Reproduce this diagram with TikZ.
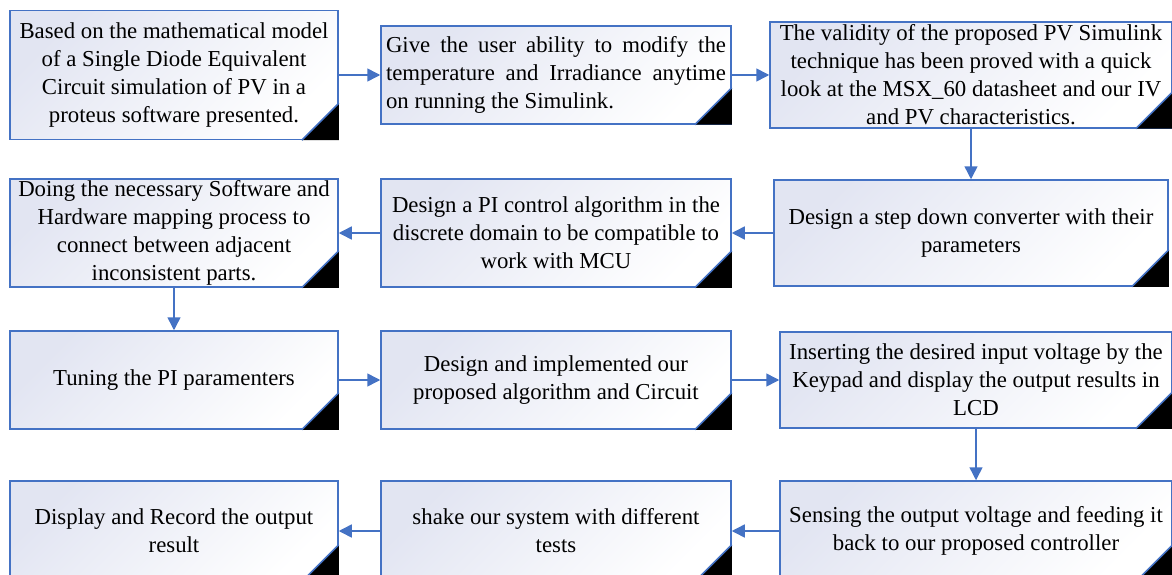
\documentclass[tikz,border=0pt]{standalone}
\usepackage{fontspec}
\setmainfont{Liberation Serif}
\usetikzlibrary{arrows.meta}
\definecolor{boxblue}{RGB}{68,114,196}
\definecolor{boxtop}{RGB}{226,229,242}
\tikzset{
  flowbox/.style={draw=boxblue, line width=1.5pt, top color=boxtop, bottom color=white,
    shading angle=45, inner sep=0pt, align=center, font=\fontsize{22.8}{28}\selectfont},
  arrowline/.style={draw=boxblue, line width=1.5pt, -{Triangle[length=13pt,width=13pt]}},
}
\begin{document}
\begin{tikzpicture}[x=1pt,y=-1pt]
  \useasboundingbox (0,0) rectangle (1172,575);

  % Drawing boxes of row 1
  \node[flowbox, minimum width=328pt, minimum height=129pt] (based) at (174,75)
    {Based on the mathematical model\\of a Single Diode Equivalent\\Circuit simulation of PV in a\\proteus software presented.};
  \node[flowbox, minimum width=350pt, minimum height=98pt, text width=340pt, align=justify] (giveuser) at (556,75)
    {Give the user ability to modify the\linebreak temperature and Irradiance anytime\linebreak on running the Simulink.};
  \node[flowbox, minimum width=402pt, minimum height=106pt] (validity) at (971,75)
    {The validity of the proposed PV Simulink\\technique has been proved with a quick\\look at the MSX\_60 datasheet and our IV\\and PV characteristics.};

  % Drawing boxes of row 2
  \node[flowbox, minimum width=394pt, minimum height=106pt] (stepdown) at (971,233)
    {Design a step down converter with their\\parameters};
  \node[flowbox, minimum width=350pt, minimum height=108pt] (picontrol) at (556,233)
    {Design a PI control algorithm in the\\discrete domain to be compatible to\\work with MCU};
  \node[flowbox, minimum width=328pt, minimum height=108pt] (mapping) at (174,233)
    {Doing the necessary Software and\\Hardware mapping process to\\connect between adjacent\\inconsistent parts.};

  % Drawing boxes of row 3
  \node[flowbox, minimum width=328pt, minimum height=98pt] (tuning) at (174,380)
    {Tuning the PI paramenters};
  \node[flowbox, minimum width=350pt, minimum height=98pt] (implement) at (556,380)
    {Design and implemented our\\proposed algorithm and Circuit};
  \node[flowbox, minimum width=392pt, minimum height=96pt] (keypad) at (976,380)
    {Inserting the desired input voltage by the\\Keypad and display the output results in\\LCD};

  % Drawing boxes of row 4
  \node[flowbox, minimum width=392pt, minimum height=100pt] (sensing) at (976,531)
    {Sensing the output voltage and feeding it\\back to our proposed controller};
  \node[flowbox, minimum width=350pt, minimum height=100pt] (shake) at (556,531)
    {shake our system with different\\tests};
  \node[flowbox, minimum width=328pt, minimum height=100pt] (display) at (174,531)
    {Display and Record the output\\result};

  % Marking the folded corners
  \foreach \n in {based,giveuser,validity,stepdown,picontrol,mapping,tuning,implement,keypad,sensing,shake,display} {
    \fill[black] (\n.south east) -- ++(-37,0) -- ++(37,-37) -- cycle;
    \draw[boxblue, line width=1.5pt] ([xshift=-37pt]\n.south east) -- ([yshift=37pt]\n.south east);
  }

  % Drawing arrows
  \draw[arrowline] (based) -- (giveuser);
  \draw[arrowline] (giveuser) -- (validity);
  \draw[arrowline] (validity) -- (stepdown);
  \draw[arrowline] (stepdown) -- (picontrol);
  \draw[arrowline] (picontrol) -- (mapping);
  \draw[arrowline] (mapping) -- (tuning);
  \draw[arrowline] (tuning) -- (implement);
  \draw[arrowline] (implement) -- (keypad);
  \draw[arrowline] (keypad) -- (sensing);
  \draw[arrowline] (sensing) -- (shake);
  \draw[arrowline] (shake) -- (display);
\end{tikzpicture}
\end{document}
